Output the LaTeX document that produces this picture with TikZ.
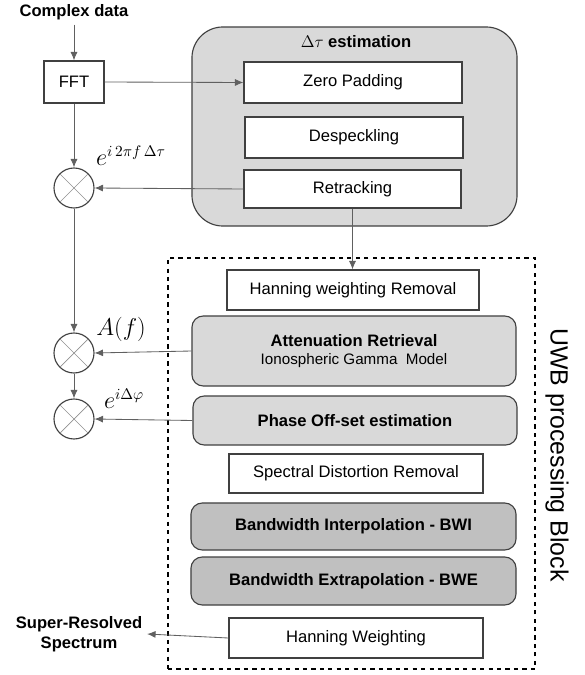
\documentclass[tikz,border=0pt]{standalone}
\usepackage[no-math]{fontspec}
\setmainfont{Liberation Sans}
\usepackage{amsmath}
\usepackage{tikz}
\usetikzlibrary{positioning,arrows.meta,shapes}

\definecolor{boxline}{HTML}{404040}
\definecolor{wire}{HTML}{606060}
\definecolor{lightfill}{HTML}{D9D9D9}
\definecolor{darkfill}{HTML}{C0C0C0}

\begin{document}
\begin{tikzpicture}[x=0.025cm,y=-0.025cm,
  every node/.style={font=\fontsize{11.8}{14}\selectfont},
  plainbox/.style={draw=boxline,line width=0.8pt,fill=white,inner sep=0pt},
  grayblock/.style={draw=boxline,line width=0.8pt,fill=lightfill,rounded corners=8pt,inner sep=0pt},
  darkblock/.style={grayblock,fill=darkfill},
  mult/.style={circle,draw=boxline,line width=0.8pt,minimum size=1cm,inner sep=0pt},
  wirearrow/.style={draw=wire,line width=0.6pt,-{Latex[length=6pt,width=5pt]}},
  mathlbl/.style={font=\fontsize{16}{19}\selectfont}]
\useasboundingbox (0,0) rectangle (584,675);

% delta tau block
\node[grayblock,rounded corners=22pt,minimum width=8.125cm,minimum height=4.975cm] (dtau) at (354.5,126.5) {};
\node[font=\fontsize{11.8}{14}\selectfont\bfseries] (dtaulbl) at (356,42) {$\Delta\tau$ estimation};
\node[plainbox,minimum width=5.45cm,minimum height=1.025cm] (zero) at (353,82.5) {Zero Padding};
\node[plainbox,minimum width=5.45cm,minimum height=1.025cm] (desp) at (354,137.5) {Despeckling};
\node[plainbox,minimum width=5.425cm,minimum height=0.95cm] (retr) at (352.5,189) {Retracking};

% UWB block
\node[draw=black,line width=0.8pt,dashed,minimum width=9.175cm,minimum height=10.275cm] (uwb) at (351.5,463.5) {};
\node[rotate=-90,font=\fontsize{17.7}{20}\selectfont] (uwblbl) at (557,455) {UWB processing Block};
\node[plainbox,minimum width=6.3cm,minimum height=1cm] (hwr) at (353,290) {Hanning weighting Removal};
\node[grayblock,minimum width=8.1cm,minimum height=1.75cm,align=center] (att) at (354,351)
  {\textbf{Attenuation Retrieval}\\[-1pt]{\fontsize{10.8}{13}\selectfont Ionospheric Gamma\ \ Model}};
\node[grayblock,minimum width=8.1cm,minimum height=1.225cm,font=\fontsize{11.8}{14}\selectfont\bfseries] (phase) at (355,420.5) {Phase Off-set estimation};
\node[plainbox,minimum width=6.35cm,minimum height=0.975cm] (sdr) at (356,473.5) {Spectral Distortion Removal};
\node[darkblock,minimum width=8.125cm,minimum height=1.175cm,font=\fontsize{11.8}{14}\selectfont\bfseries] (bwi) at (353.5,526.5) {Bandwidth Interpolation - BWI};
\node[darkblock,minimum width=8.125cm,minimum height=1.2cm,font=\fontsize{11.8}{14}\selectfont\bfseries] (bwe) at (353.5,581) {Bandwidth Extrapolation - BWE};
\node[plainbox,minimum width=6.35cm,minimum height=1cm] (hw) at (356,638) {Hanning Weighting};

% left chain
\node[font=\fontsize{11.8}{14}\selectfont\bfseries] (cdata) at (74,12) {Complex data};
\node[plainbox,minimum width=1.5cm,minimum height=1.05cm] (fft) at (74,82) {FFT};
\node[mult] (m1) at (74,188) {};
\node[mult] (m2) at (74,353) {};
\node[mult] (m3) at (74,419) {};
\foreach \m in {m1,m2,m3}{
  \draw[wire!70,line width=0.5pt] (\m.north west) -- (\m.south east);
  \draw[wire!70,line width=0.5pt] (\m.north east) -- (\m.south west);
}
\node[mathlbl] (lbl1) at (131,156) {$e^{i\,2\pi f\,\Delta\tau}$};
\node[mathlbl] (lbl2) at (121,329) {$A(f)$};
\node[mathlbl] (lbl3) at (124,399) {$e^{i\Delta\varphi}$};
\node[font=\fontsize{11.8}{14}\selectfont\bfseries,align=center] (out) at (79,634) {Super-Resolved\\Spectrum};

\draw[wirearrow] (cdata.south) -- (fft.north);
\draw[wirearrow] (fft.east) -- (zero.west);
\draw[wirearrow] (fft.south) -- (m1.north);
\draw[wirearrow] (retr.west) -- (m1.east);
\draw[wirearrow] (retr.south) -- (retr.south |- hwr.north);
\draw[wirearrow] (m1.south) -- (m2.north);
\draw[wirearrow] (att.west) -- (m2.east);
\draw[wirearrow] (m2.south) -- (m3.north);
\draw[wirearrow] (phase.west) -- (m3.east);
\draw[wirearrow] (hw.west) -- (out.east);
\end{tikzpicture}
\end{document}
